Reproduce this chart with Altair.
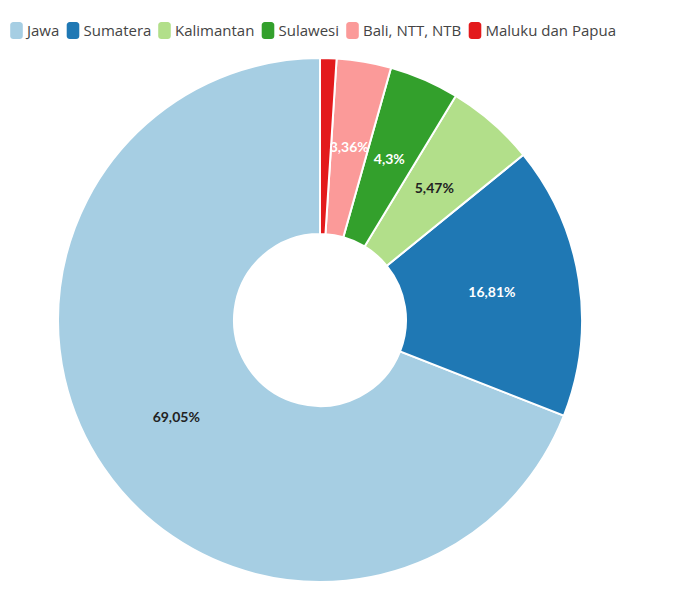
import altair as alt
import pandas as pd

regions = ["Jawa", "Sumatera", "Kalimantan", "Sulawesi", "Bali, NTT, NTB", "Maluku dan Papua"]
shares = [69.05, 16.81, 5.47, 4.3, 3.36, 1.01]
colors = ["#a6cee3", "#1f78b4", "#b2df8a", "#33a02c", "#fb9a99", "#e31a1c"]
label_colors = ["#222222", "#ffffff", "#222222", "#ffffff", "#ffffff", "#ffffff"]
stack_rank = [5, 4, 3, 2, 1, 0]
labels = [(str(v).replace(".", ",") + "%") if v >= 2 else "" for v in shares]

df = pd.DataFrame({
    "region": regions,
    "share": shares,
    "rank": stack_rank,
    "label": labels,
    "lc": label_colors,
})

CX, CY = 312, 312

legend_path = ("M-0.38,-1 H0.38 A0.36,0.36 0 0 1 0.74,-0.64 V0.64 "
               "A0.36,0.36 0 0 1 0.38,1 H-0.38 A0.36,0.36 0 0 1 -0.74,0.64 "
               "V-0.64 A0.36,0.36 0 0 1 -0.38,-1 Z")

base = alt.Chart(df)

arcs = base.mark_arc(radius=262, radius2=86, stroke="white", strokeWidth=2).encode(
    theta=alt.Theta("share:Q", stack=True),
    order=alt.Order("rank:Q", sort="ascending"),
    color=alt.Color(
        "region:N",
        scale=alt.Scale(domain=regions, range=colors),
        legend=alt.Legend(
            title=None,
            orient="none",
            legendX=0,
            legendY=14,
            direction="horizontal",
            columns=6,
            symbolType=legend_path,
            symbolSize=289,
            symbolStrokeWidth=0,
            symbolOpacity=1,
            labelFont="Open Sans",
            labelFontSize=15,
            labelColor="#444444",
            labelOffset=2,
            columnPadding=4.5,
        ),
    ),
    x=alt.value(CX),
    y=alt.value(CY),
)

texts = base.mark_text(radius=174, font="Lato", fontSize=14, fontWeight="bold").encode(
    theta=alt.Theta("share:Q", stack=True),
    order=alt.Order("rank:Q", sort="ascending"),
    text=alt.Text("label:N"),
    color=alt.Color("lc:N", scale=None),
    x=alt.value(CX),
    y=alt.value(CY),
)

chart = alt.layer(arcs, texts).resolve_scale(color="independent").properties(
    width=664,
    height=578,
    autosize=alt.AutoSizeParams(type="none"),
    padding=0,
).configure_view(stroke=None)

chart.save("out.html", embed_options={"renderer": "svg", "actions": False})
